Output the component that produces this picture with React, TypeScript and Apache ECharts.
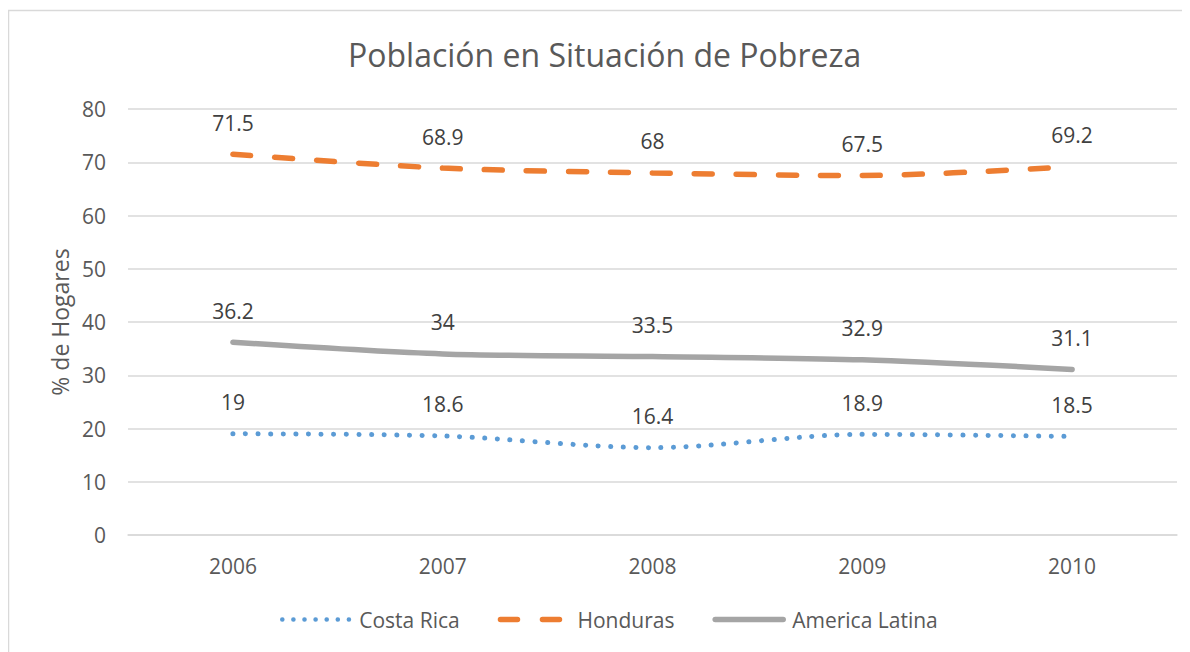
import React, { useEffect, useRef } from "react";
import * as echarts from "echarts";

const years = ["2006", "2007", "2008", "2009", "2010"];
const costaRica = [19, 18.6, 16.4, 18.9, 18.5];
const honduras = [71.5, 68.9, 68, 67.5, 69.2];
const americaLatina = [36.2, 34, 33.5, 32.9, 31.1];

const FONT = "'Open Sans', 'Noto Sans', sans-serif";

export default function App() {
  const ref = useRef<HTMLDivElement>(null);
  useEffect(() => {
    if (!ref.current) return;
    const chart = echarts.init(ref.current, undefined, { renderer: "svg" });
    const label = {
      show: true,
      position: "top",
      distance: 21,
      fontSize: 21,
      color: "#404040",
      fontFamily: FONT,
    };
    chart.setOption({
      animation: false,
      backgroundColor: "#ffffff",
      textStyle: { fontFamily: FONT },
      title: {
        text: "Población en Situación de Pobreza",
        left: 335,
        top: 25,
        textStyle: { fontSize: 32, fontWeight: "normal", color: "#595959", fontFamily: FONT },
      },
      graphic: [
        {
          type: "rect",
          shape: { x: 0.5, y: 2.5, width: 1400, height: 1000 },
          style: { fill: "none", stroke: "#D9D9D9", lineWidth: 1.5 },
          silent: true,
          z: -1,
        },
      ],
      legend: {
        bottom: 17,
        left: 267,
        itemWidth: 68,
        itemHeight: 14,
        itemGap: 38,
        itemStyle: { opacity: 0 },
        textStyle: { fontSize: 21, color: "#595959", fontFamily: FONT, padding: [0, 0, 0, 4] },
        data: [
          { name: "Costa Rica", lineStyle: { width: 4.5, type: [0.1, 11], cap: "round" } },
          { name: "Honduras", lineStyle: { width: 5.5, type: [17, 25], cap: "round" } },
          { name: "America Latina", lineStyle: { width: 5.5, cap: "round" } },
        ],
      },
      grid: { left: 120, right: 13, top: 101, bottom: 117 },
      xAxis: {
        type: "category",
        data: years,
        boundaryGap: true,
        axisLine: { lineStyle: { color: "#D9D9D9", width: 1.5 } },
        axisTick: { show: false },
        axisLabel: { fontSize: 21, color: "#595959", margin: 20, fontFamily: FONT },
      },
      yAxis: {
        type: "value",
        min: 0,
        max: 80,
        interval: 10,
        name: "% de Hogares",
        nameLocation: "middle",
        nameGap: 52,
        nameRotate: 90,
        nameTextStyle: { fontSize: 23, color: "#595959", fontFamily: FONT },
        axisLine: { show: false },
        axisTick: { show: false },
        axisLabel: { fontSize: 21, color: "#595959", margin: 22, fontFamily: FONT },
        splitLine: { lineStyle: { color: "#D9D9D9", width: 1.5 } },
      },
      series: [
        {
          name: "Costa Rica",
          type: "line",
          data: costaRica,
          smooth: 0.3,
          symbol: "circle",
          symbolSize: 0,
          color: "#5B9BD5",
          lineStyle: { color: "#5B9BD5", width: 5, type: [0.1, 12.5], cap: "round" },
          label,
        },
        {
          name: "Honduras",
          type: "line",
          data: honduras,
          smooth: 0.3,
          symbol: "circle",
          symbolSize: 0,
          color: "#ED7D31",
          lineStyle: { color: "#ED7D31", width: 5.5, type: [18, 24], cap: "round" },
          label,
        },
        {
          name: "America Latina",
          type: "line",
          data: americaLatina,
          smooth: 0.3,
          symbol: "circle",
          symbolSize: 0,
          color: "#A5A5A5",
          lineStyle: { color: "#A5A5A5", width: 5.5, type: "solid", cap: "round" },
          label,
        },
      ],
    });
    return () => chart.dispose();
  }, []);
  return <div ref={ref} style={{ width: 1182, height: 644 }} />;
}
